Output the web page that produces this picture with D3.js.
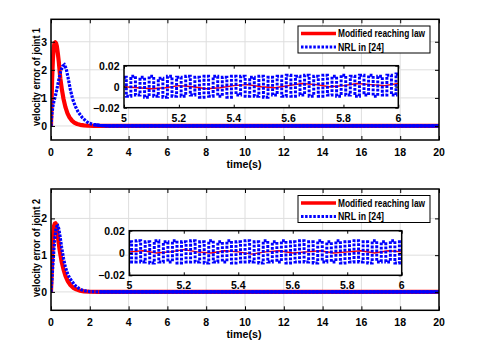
<!DOCTYPE html>
<html>
<head>
<meta charset="utf-8">
<script src="https://cdn.jsdelivr.net/npm/d3@7"></script>
<style>
  body { margin: 0; background: #fff; }
  svg text { font-family: "Liberation Sans", Arial, sans-serif; font-weight: bold; fill: #000; }
</style>
</head>
<body>
<div id="container"></div>
<script>
// ---- data ----
const legendNames = ["Modified reaching law", "NRL in [24]"];
const xTicks = [0, 2, 4, 6, 8, 10, 12, 14, 16, 18, 20];
const insetXTicks = [5, 5.2, 5.4, 5.6, 5.8, 6];
const insetYTicks = [-0.02, 0, 0.02];

// joint 1, main view
const j1RedT = [0, 0.03, 0.06, 0.1, 0.14, 0.18, 0.22, 0.26, 0.3, 0.35, 0.4, 0.48, 0.56, 0.64, 0.74, 0.85, 0.95, 1.08, 1.2, 1.35, 1.5, 1.7, 1.9, 2.2, 2.6, 3, 20];
const j1RedV = [0, 0.9, 1.7, 2.4, 2.8, 2.95, 2.98, 2.95, 2.85, 2.6, 2.3, 1.7, 1.3, 0.98, 0.68, 0.45, 0.31, 0.19, 0.12, 0.07, 0.04, 0.02, 0.01, 0.005, 0, 0, 0];
const j1BlueT = [0, 0.05, 0.1, 0.15, 0.22, 0.3, 0.4, 0.5, 0.6, 0.69, 0.78, 0.88, 1.0, 1.12, 1.26, 1.4, 1.6, 1.8, 1.95, 2.2, 2.5, 3, 20];
const j1BlueV = [0, 0.46, 0.7, 0.88, 1.05, 1.3, 1.64, 1.95, 2.13, 2.18, 2.05, 1.72, 1.29, 0.95, 0.69, 0.5, 0.31, 0.17, 0.1, 0.05, 0.02, 0, 0];
const j1YTicks = [0, 1, 2, 3];

// joint 2, main view
const j2RedT = [0, 0.04, 0.08, 0.12, 0.16, 0.2, 0.23, 0.27, 0.32, 0.38, 0.45, 0.55, 0.65, 0.75, 0.87, 1.0, 1.15, 1.3, 1.5, 1.7, 2.0, 2.5, 20];
const j2RedV = [0, 0.6, 1.2, 1.6, 1.8, 1.86, 1.87, 1.82, 1.65, 1.4, 1.12, 0.82, 0.6, 0.43, 0.29, 0.19, 0.11, 0.07, 0.035, 0.015, 0.005, 0, 0];
const j2BlueT = [0, 0.05, 0.1, 0.15, 0.2, 0.25, 0.3, 0.35, 0.4, 0.47, 0.55, 0.65, 0.74, 0.85, 0.96, 1.08, 1.2, 1.3, 1.43, 1.6, 1.8, 2.0, 2.5, 20];
const j2BlueV = [0, 0.35, 0.75, 1.15, 1.45, 1.68, 1.78, 1.8, 1.72, 1.5, 1.2, 0.9, 0.68, 0.5, 0.38, 0.29, 0.2, 0.15, 0.1, 0.05, 0.025, 0.01, 0, 0];
const j2YTicks = [0, 1, 2];

// zoomed window 5..6 s (red every 0.05 s, blue every 1/60 s)
const j1InsetRed = [0.000, -0.001, -0.002, -0.001, 0.001, 0.000, -0.002, -0.001, 0.001, 0.002, 0.000, -0.001, 0.001, 0.003, 0.002, 0.000, 0.001, 0.003, 0.002, 0.001, 0.003];
const j1InsetBlue = [0.009, -0.009, 0.010, -0.008, 0.009, -0.010, 0.010, -0.009, 0.008, -0.010, 0.010, -0.009, 0.009, -0.009, 0.010, -0.008, 0.009, -0.010, 0.010, -0.009, 0.010, -0.009, 0.009, -0.010, 0.010, -0.008, 0.010, -0.009, 0.009, -0.009, 0.010, -0.010, 0.009, -0.008, 0.010, -0.009, 0.011, -0.009, 0.010, -0.008, 0.011, -0.009, 0.010, -0.009, 0.011, -0.008, 0.010, -0.009, 0.011, -0.008, 0.010, -0.009, 0.011, -0.008, 0.011, -0.009, 0.010, -0.008, 0.011, -0.008, 0.012];
const j2InsetRed = [0.001, 0.002, 0.000, 0.001, 0.003, 0.001, 0.000, 0.002, 0.001, -0.001, 0.001, 0.002, 0.000, 0.001, 0.002, 0.000, 0.001, 0.002, 0.000, 0.002, 0.001];
const j2InsetBlue = [0.010, -0.008, 0.011, -0.008, 0.010, -0.009, 0.011, -0.008, 0.010, -0.008, 0.011, -0.009, 0.010, -0.008, 0.011, -0.008, 0.010, -0.009, 0.011, -0.008, 0.010, -0.008, 0.011, -0.009, 0.010, -0.008, 0.011, -0.008, 0.010, -0.009, 0.011, -0.008, 0.010, -0.008, 0.011, -0.009, 0.010, -0.008, 0.011, -0.008, 0.010, -0.009, 0.011, -0.008, 0.010, -0.008, 0.011, -0.009, 0.010, -0.008, 0.011, -0.008, 0.010, -0.009, 0.011, -0.008, 0.010, -0.008, 0.011, -0.009, 0.010];

const width = 482, height = 354;
const RED = "#ff0000", BLUE = "#0000ff";

const svg = d3.select("#container").append("svg")
  .attr("width", width).attr("height", height);

function zip(t, v) { return t.map((d, i) => [d, v[i]]); }
function evenTimes(n) { return d3.range(n).map(i => 5 + i / (n - 1)); }

function boxAxes(g, x, y, xt, yt, tickLen, fmtX, fmtY, labelDy, labelDx) {
  const [x0, x1] = x.range(), [y0, y1] = y.range();
  // inward ticks on all four sides
  g.append("g").attr("transform", `translate(0,${y0})`)
    .call(d3.axisBottom(x).tickValues(xt).tickSize(-tickLen).tickFormat(""))
    .call(a => a.select(".domain").remove());
  g.append("g").attr("transform", `translate(0,${y1})`)
    .call(d3.axisTop(x).tickValues(xt).tickSize(-tickLen).tickFormat(""))
    .call(a => a.select(".domain").remove());
  g.append("g").attr("transform", `translate(${x0},0)`)
    .call(d3.axisLeft(y).tickValues(yt).tickSize(-tickLen).tickFormat(""))
    .call(a => a.select(".domain").remove());
  g.append("g").attr("transform", `translate(${x1},0)`)
    .call(d3.axisRight(y).tickValues(yt).tickSize(-tickLen).tickFormat(""))
    .call(a => a.select(".domain").remove());
  g.selectAll(".tick line").attr("stroke", "#000").attr("stroke-width", 1);
  g.append("rect").attr("x", x0).attr("y", y1).attr("width", x1 - x0).attr("height", y0 - y1)
    .attr("fill", "none").attr("stroke", "#000").attr("stroke-width", 1.5);
  g.append("g").selectAll("text").data(xt).join("text")
    .attr("x", d => x(d)).attr("y", y0 + labelDy)
    .attr("text-anchor", "middle").attr("font-size", 10.5).text(fmtX);
  g.append("g").selectAll("text").data(yt).join("text")
    .attr("x", x0 - labelDx).attr("y", d => y(d) + 3.8)
    .attr("text-anchor", "end").attr("font-size", 10.5).text(fmtY);
}

function panel(cfg, idx) {
  const g = svg.append("g");
  const x = d3.scaleLinear().domain([0, 20]).range([51, 439]);
  const y = d3.scaleLinear().domain(cfg.yDomain).range(cfg.yRange);
  const [x0, x1] = x.range(), [y0, y1] = y.range();

  g.append("rect").attr("x", x0).attr("y", y1).attr("width", x1 - x0).attr("height", y0 - y1).attr("fill", "#fff");

  // grid
  g.append("g").selectAll("line").data(xTicks).join("line")
    .attr("x1", d => x(d)).attr("x2", d => x(d)).attr("y1", y0).attr("y2", y1)
    .attr("stroke", "#dedede").attr("stroke-width", 1);
  g.append("g").selectAll("line").data(cfg.yTicks).join("line")
    .attr("x1", x0).attr("x2", x1).attr("y1", d => y(d)).attr("y2", d => y(d))
    .attr("stroke", "#dedede").attr("stroke-width", 1);

  const clipId = "clip" + idx;
  svg.append("clipPath").attr("id", clipId).append("rect")
    .attr("x", x0).attr("y", y1).attr("width", x1 - x0).attr("height", y0 - y1);

  const line = d3.line().x(d => x(d[0])).y(d => y(d[1]));
  const plot = g.append("g").attr("clip-path", `url(#${clipId})`);
  const blue = zip(cfg.blueT, cfg.blueV);
  plot.append("path").attr("d", line(zip(cfg.redT, cfg.redV)))
    .attr("fill", "none").attr("stroke", RED).attr("stroke-width", 4.2).attr("stroke-linejoin", "round");
  plot.append("path").attr("d", line(blue))
    .attr("fill", "none").attr("stroke", BLUE).attr("stroke-width", 3.2)
    .attr("stroke-dasharray", "2.6,1.2");
  plot.append("path").attr("d", line(blue.filter(d => d[0] >= 2.2)))
    .attr("fill", "none").attr("stroke", BLUE).attr("stroke-width", 3.2);

  boxAxes(g, x, y, xTicks, cfg.yTicks, 4, d => d, d => d, 15.5, 4);

  g.append("text").attr("x", 244).attr("y", y0 + 28)
    .attr("text-anchor", "middle").attr("font-size", 10.5)
    .attr("textLength", 35).attr("lengthAdjust", "spacingAndGlyphs").text("time(s)");
  g.append("text")
    .attr("transform", `translate(${39.5},${cfg.yLabelMid}) rotate(-90)`)
    .attr("text-anchor", "middle").attr("font-size", 10.5)
    .attr("textLength", 98).attr("lengthAdjust", "spacingAndGlyphs")
    .text(cfg.yLabel);

  // inset
  const ix = d3.scaleLinear().domain([5, 6]).range(cfg.insetX);
  const iy = d3.scaleLinear().domain([-0.02, 0.02]).range(cfg.insetY);
  const [ix0, ix1] = ix.range(), [iy0, iy1] = iy.range();
  const ig = g.append("g");
  ig.append("rect").attr("x", ix0).attr("y", iy1).attr("width", ix1 - ix0).attr("height", iy0 - iy1).attr("fill", "#fff");
  const iline = d3.line().x(d => ix(d[0])).y(d => iy(d[1]));
  const redT = d3.range(cfg.insetRed.length).map(i => 5 + i * 0.05);
  ig.append("path").attr("d", iline(zip(redT, cfg.insetRed)))
    .attr("fill", "none").attr("stroke", RED).attr("stroke-width", 1.4);
  // chattering drawn as steps so each swing forms a near-vertical dotted column
  ig.append("path").attr("d", iline.curve(d3.curveStep)(zip(evenTimes(cfg.insetBlue.length), cfg.insetBlue)))
    .attr("fill", "none").attr("stroke", BLUE).attr("stroke-width", 3)
    .attr("stroke-dasharray", "2.8,1.4");
  boxAxes(ig, ix, iy, insetXTicks, insetYTicks, 3, d => d3.format("")(d), d => d === 0 ? "0" : d3.format(".2f")(d), 14, 4.5);

  // legend
  const lg = g.append("g").attr("transform", `translate(298,${cfg.legendY})`);
  lg.append("rect").attr("width", 132).attr("height", 27)
    .attr("fill", "#fff").attr("stroke", "#000").attr("stroke-width", 1);
  lg.append("line").attr("x1", 3).attr("x2", 38).attr("y1", 7.5).attr("y2", 7.5)
    .attr("stroke", RED).attr("stroke-width", 3.5);
  lg.append("line").attr("x1", 3).attr("x2", 38).attr("y1", 21).attr("y2", 21)
    .attr("stroke", BLUE).attr("stroke-width", 3).attr("stroke-dasharray", "2.5,1.6");
  lg.append("text").attr("x", 40).attr("y", 11).attr("font-size", 10)
    .attr("textLength", 87).attr("lengthAdjust", "spacingAndGlyphs").text(legendNames[0]);
  lg.append("text").attr("x", 40).attr("y", 24.5).attr("font-size", 10)
    .attr("textLength", 46).attr("lengthAdjust", "spacingAndGlyphs").text(legendNames[1]);
}

panel({
  yDomain: [-0.5, 3.8], yRange: [140, 19.3], yTicks: j1YTicks,
  redT: j1RedT, redV: j1RedV, blueT: j1BlueT, blueV: j1BlueV,
  yLabel: "velocity error of joint 1", yLabelMid: 77,
  insetX: [124, 398.3], insetY: [107.7, 65.7],
  insetRed: j1InsetRed, insetBlue: j1InsetBlue, legendY: 26
}, 1);

panel({
  yDomain: [-0.5, 2.8], yRange: [310.3, 189], yTicks: j2YTicks,
  redT: j2RedT, redV: j2RedV, blueT: j2BlueT, blueV: j2BlueV,
  yLabel: "velocity error of joint 2", yLabelMid: 248,
  insetX: [129.3, 401.7], insetY: [275.3, 230.7],
  insetRed: j2InsetRed, insetBlue: j2InsetBlue, legendY: 195.5
}, 2);
</script>
</body>
</html>
